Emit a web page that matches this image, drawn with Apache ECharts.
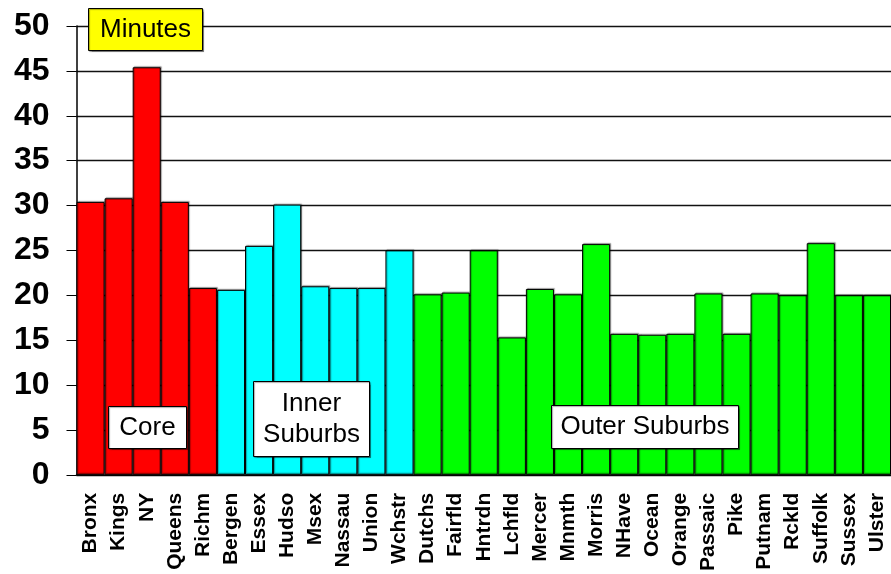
<!DOCTYPE html>
<html>
<head>
<meta charset="utf-8">
<script src="https://cdn.jsdelivr.net/npm/echarts@6/dist/echarts.min.js"></script>
<style>
  html, body { margin: 0; padding: 0; background: #fff; }
  #chart { width: 891px; height: 574px; }
</style>
</head>
<body>
<div id="chart"></div>
<script>
// commute time by county, minutes
var coreNames = ['Bronx', 'Kings', 'NY', 'Queens', 'Richm']
var coreValues = [30.4, 30.8, 45.4, 30.4, 20.8]

var innerNames = ['Bergen', 'Essex', 'Hudso', 'Msex', 'Nassau', 'Union', 'Wchstr']
var innerValues = [20.6, 25.5, 30.1, 21.0, 20.8, 20.8, 25.0]

var outerNames = ['Dutchs', 'Fairfld', 'Hntrdn', 'Lchfld', 'Mercer', 'Mnmth', 'Morris', 'NHave',
  'Ocean', 'Orange', 'Passaic', 'Pike', 'Putnam', 'Rckld', 'Suffolk', 'Sussex', 'Ulster']
var outerValues = [20.1, 20.3, 25.0, 15.3, 20.7, 20.1, 25.7, 15.7,
  15.6, 15.7, 20.2, 15.7, 20.2, 20.0, 25.8, 20.0, 20.0]

var yTicks = [0, 50, 5] // min, max, interval

var groups = [
  { names: coreNames, values: coreValues, color: '#ff0000' },
  { names: innerNames, values: innerValues, color: '#00ffff' },
  { names: outerNames, values: outerValues, color: '#00ff00' }
]

var categories = []
var barData = []
groups.forEach(function (g) {
  g.names.forEach(function (n, i) {
    categories.push(n)
    barData.push({ value: g.values[i], itemStyle: { color: g.color } })
  })
})

var font = 'Liberation Sans, Arial, Helvetica, sans-serif'

// boxed annotation (legend-like text labels)
function box(left, top, w, h, text, fill, lh) {
  return {
    type: 'group',
    left: left,
    top: top,
    z: 100,
    children: [
      {
        type: 'rect',
        z: 100,
        shape: { x: 0, y: 0, width: w, height: h },
        style: { fill: fill, stroke: '#000', lineWidth: 1, shadowColor: 'rgba(0,0,0,0.35)', shadowOffsetX: 1, shadowOffsetY: 1, shadowBlur: 1 }
      },
      {
        type: 'text',
        z: 101,
        x: w / 2,
        y: h / 2,
        style: {
          text: text,
          fill: '#000',
          font: '26px ' + font,
          align: 'center',
          verticalAlign: 'middle',
          lineHeight: lh || 30
        }
      }
    ]
  }
}

var chart = echarts.init(document.getElementById('chart'))
chart.setOption({
  animation: false,
  backgroundColor: '#fff',
  grid: {
    left: 76.5,
    right: -9.7,
    top: 26,
    bottom: 94,
    containLabel: false
  },
  xAxis: {
    type: 'category',
    data: categories,
    axisLine: { lineStyle: { color: '#000', width: 1.5 } },
    axisTick: { length: 7, lineStyle: { color: '#000', width: 1 } },
    axisLabel: {
      rotate: 90,
      interval: 0,
      margin: 18,
      color: '#000',
      fontWeight: 'bold',
      fontSize: 21,
      fontFamily: font
    }
  },
  yAxis: {
    type: 'value',
    min: yTicks[0],
    max: yTicks[1],
    interval: yTicks[2],
    axisLine: { show: true, lineStyle: { color: '#000', width: 1.5 } },
    axisTick: { show: true, length: 10, lineStyle: { color: '#000', width: 1 } },
    axisLabel: {
      margin: 27,
      color: '#000',
      fontWeight: 'bold',
      fontSize: 32,
      fontFamily: font
    },
    splitLine: { lineStyle: { color: '#111', width: 1.3 } }
  },
  series: [{
    type: 'bar',
    data: barData,
    barCategoryGap: 0,
    itemStyle: {
      borderColor: '#000',
      borderWidth: 1,
      shadowColor: 'rgba(0,0,0,0.35)',
      shadowOffsetX: 1,
      shadowOffsetY: -1,
      shadowBlur: 1
    }
  }],
  graphic: [
    box(88, 8, 114, 42, 'Minutes', '#ffff00'),
    box(108, 406, 78, 42, 'Core', '#fff'),
    box(253, 381, 116, 75, 'Inner\nSuburbs', '#fff', 31),
    box(551, 405, 187, 43, 'Outer Suburbs', '#fff')
  ]
})
</script>
</body>
</html>
